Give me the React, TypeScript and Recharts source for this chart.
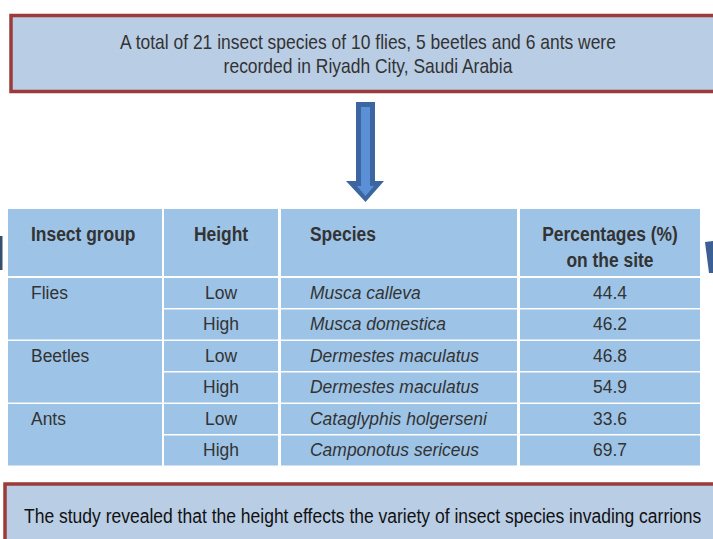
import type { ReactNode } from 'react'
import { Surface, Rectangle, Polygon } from 'recharts'

const headline = [
  'A total of 21 insect species of 10 flies, 5 beetles and 6 ants were',
  'recorded in Riyadh City, Saudi Arabia',
]
const conclusion = 'The study revealed that the height effects the variety of insect species invading carrions'

const headers = ['Insect group', 'Height', 'Species']
const lastHeader = ['Percentages (%)', 'on the site']
const groups = ['Flies', 'Beetles', 'Ants']
const heights = ['Low', 'High', 'Low', 'High', 'Low', 'High']
const species = [
  'Musca calleva',
  'Musca domestica',
  'Dermestes maculatus',
  'Dermestes maculatus',
  'Cataglyphis holgerseni',
  'Camponotus sericeus',
]
const percentages = [44.4, 46.2, 46.8, 54.9, 33.6, 69.7]

const W = 713
const H = 539
const FONT = "'Liberation Sans', Arial, sans-serif"
const INK = '#333333'
const CELL = '#9dc3e6'
const BOX = '#b9cde5'
const FRAME = '#9b3b3a'

// column edges of the table
const cols = [
  { x: 8, w: 154 },
  { x: 164, w: 114 },
  { x: 281, w: 236 },
  { x: 520, w: 180 },
]
const headTop = 209
const headH = 67
const rowTop = 278
const pitch = 31.5
const rowH = 30
const rowY = (i: number) => rowTop + i * pitch

// Arial Narrow look: Liberation Sans squeezed horizontally
function NText({
  x, y, size, narrow = 0.88, anchor = 'start', bold, italic, fill = INK, children,
}: {
  x: number; y: number; size: number; narrow?: number; anchor?: 'start' | 'middle'
  bold?: boolean; italic?: boolean; fill?: string; children: ReactNode
}) {
  return (
    <text
      transform={`translate(${x},${y}) scale(${narrow},1)`}
      textAnchor={anchor}
      fontFamily={FONT}
      fontSize={size}
      fontWeight={bold ? 'bold' : 'normal'}
      fontStyle={italic ? 'italic' : 'normal'}
      fill={fill}
    >
      {children}
    </text>
  )
}

export default function App() {
  return (
    <div style={{ position: 'absolute', left: 0, top: 0 }}>
      <Surface width={W} height={H} viewBox={{ x: 0, y: 0, width: W, height: H }}>
        <rect x={0} y={0} width={W} height={H} fill="#ffffff" />

        {/* top note */}
        <Rectangle x={11} y={15.5} width={720} height={76} fill={BOX} stroke={FRAME} strokeWidth={3.5} />
        {headline.map((line, i) => (
          <NText key={line} x={368} y={48.5 + i * 24.5} size={20} narrow={0.873} anchor="middle">{line}</NText>
        ))}

        {/* arrow */}
        <Polygon
          points={[
            { x: 356, y: 102 }, { x: 375, y: 102 }, { x: 375, y: 181 }, { x: 384, y: 181 },
            { x: 365.5, y: 202 }, { x: 346, y: 181 }, { x: 356, y: 181 },
          ]}
          fill="#3d65a2"
        />
        <Polygon
          points={[
            { x: 361, y: 107 }, { x: 370, y: 107 }, { x: 370, y: 186 }, { x: 374, y: 186 },
            { x: 365.5, y: 196 }, { x: 357, y: 186 }, { x: 361, y: 186 },
          ]}
          fill="#5b90d6"
        />

        {/* edge fragments */}
        <rect x={0} y={236} width={2.5} height={34} fill="#34506e" />
        <Polygon points={[{ x: 705, y: 242 }, { x: 713, y: 241 }, { x: 713, y: 273 }, { x: 709, y: 273 }]} fill="#3c5f95" />

        {/* header row */}
        {cols.map((c, i) => (
          <rect key={`h${i}`} x={c.x} y={headTop} width={c.w} height={headH} fill={CELL} />
        ))}
        <NText x={31} y={241} size={20.5} narrow={0.85} bold>{headers[0]}</NText>
        <NText x={cols[1].x + cols[1].w / 2} y={241} size={20.5} narrow={0.85} bold anchor="middle">{headers[1]}</NText>
        <NText x={310} y={241} size={20.5} narrow={0.85} bold>{headers[2]}</NText>
        {lastHeader.map((line, i) => (
          <NText key={line} x={cols[3].x + cols[3].w / 2} y={241 + i * 26} size={20.5} narrow={0.85} bold anchor="middle">
            {line}
          </NText>
        ))}

        {/* group cells span two rows */}
        {groups.map((g, gi) => (
          <g key={g}>
            <rect x={cols[0].x} y={rowY(gi * 2)} width={cols[0].w} height={pitch + rowH} fill={CELL} />
            <NText x={31} y={rowY(gi * 2) + 20.5} size={19} narrow={0.92}>{g}</NText>
          </g>
        ))}

        {species.map((s, i) => (
          <g key={i}>
            {cols.slice(1).map((c, ci) => (
              <rect key={ci} x={c.x} y={rowY(i)} width={c.w} height={rowH} fill={CELL} />
            ))}
            <NText x={cols[1].x + cols[1].w / 2} y={rowY(i) + 20.5} size={19} narrow={0.92} anchor="middle">{heights[i]}</NText>
            <NText x={310} y={rowY(i) + 20.5} size={19} narrow={0.92} italic>{s}</NText>
            <NText x={cols[3].x + cols[3].w / 2} y={rowY(i) + 20.5} size={19} narrow={0.92} anchor="middle">
              {percentages[i].toFixed(1)}
            </NText>
          </g>
        ))}

        {/* bottom note */}
        <Rectangle x={5} y={484} width={730} height={80} fill={BOX} stroke={FRAME} strokeWidth={3.5} />
        <NText x={24} y={522.5} size={20} narrow={0.875} fill="#111111">{conclusion}</NText>
      </Surface>
    </div>
  )
}
